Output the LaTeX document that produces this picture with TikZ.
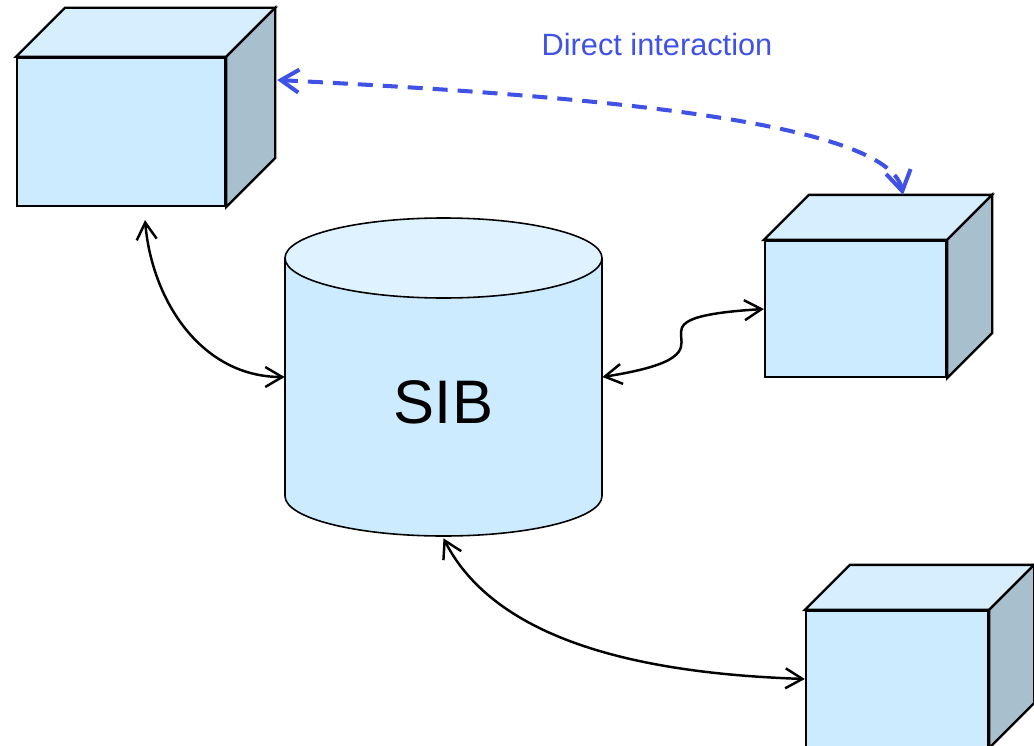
\documentclass[tikz,border=0pt]{standalone}
\usepackage{fontspec}
\setmainfont{Liberation Sans}
\usepackage{xcolor}
\usetikzlibrary{arrows.meta,calc}
\definecolor{frontblue}{HTML}{CCEBFF}
\definecolor{topblue}{HTML}{D7EEFF}
\definecolor{sidegrey}{HTML}{A8BFCE}
\definecolor{captop}{HTML}{DFF2FF}
\definecolor{linkblue}{HTML}{4052E6}
\tikzset{
	front/.style={draw, fill=frontblue, line width=1.3pt, inner sep=0pt},
	topface/.style={draw, fill=topblue, line width=1.3pt},
	sideface/.style={draw, fill=sidegrey, line width=1.3pt},
	link/.style={line width=1.4pt,
			{Straight Barb[length=3.4mm,width=4mm]}-{Straight Barb[length=3.4mm,width=4mm]}},
	direct/.style={linkblue, line width=2.3pt, dash pattern=on 0.3cm off 0.2cm,
			{Straight Barb[length=3.6mm,width=4.6mm]}-{Straight Barb[length=4mm,width=5mm]}}
}

\begin{document}
\begin{tikzpicture}
		\useasboundingbox (0,0) rectangle (20.68,-14.90);

		% Front faces of the three boxes
		\node[front, minimum width=4.16cm, minimum height=2.96cm] (agentA) at (2.42,-2.64) {};
		\node[front, minimum width=3.62cm, minimum height=2.72cm] (agentB) at (17.11,-6.18) {};
		\node[front, minimum width=3.64cm, minimum height=2.72cm] (agentC) at (17.94,-13.58) {};

		% Top and right faces, pushed back by the depth
		\foreach \b/\d in {agentA/0.98, agentB/0.9, agentC/0.9} {
				\draw[topface] (\b.north west) -- ++(\d,\d) -- ($(\b.north east)+(\d,\d)$) -- (\b.north east) -- cycle;
				\draw[sideface] (\b.north east) -- ++(\d,\d) -- ($(\b.south east)+(\d,\d)$) -- (\b.south east) -- cycle;
			}

		% Draw the cylinder (body, then the lid)
		\filldraw[fill=frontblue, line width=0.9pt] (5.70,-5.16) -- (5.70,-9.92)
		arc[start angle=180, end angle=360, x radius=3.17, y radius=0.8] -- (12.04,-5.16);
		\filldraw[fill=captop, line width=0.9pt] (8.87,-5.16) ellipse[x radius=3.17, y radius=0.8];
		\node[minimum width=6.34cm, minimum height=6.36cm, inner sep=0pt] (sib) at (8.87,-7.54) {};
		\node[font=\fontsize{35}{42}\selectfont] (siblabel) at (8.87,-8.04) {SIB};

		% Ports on the boxes
		\coordinate (portA) at ($(agentA.south)+(0.48,-0.26)$);
		\coordinate (backA) at ($(agentA.east)+(1.02,1.04)$);
		\coordinate (topB) at ($(agentB.north)+(0.95,0.9)$);

		% Links to the SIB
		\draw[link] (portA) to[out=-85, in=180] (sib.west);
		\draw[link] (sib.east) .. controls +(3.2,0.5) and +(-3.3,-0.2) .. (agentB.west);
		\draw[link] ([yshift=-0.04cm]sib.south) to[out=-63, in=178, looseness=0.85] (agentC.west);

		% Direct interaction between two boxes
		\draw[direct] (backA) .. controls +(5.98,-0.3) and +(-0.3,1.5) .. (topB);
		\node[linkblue, font=\fontsize{17.5}{21}\selectfont] (directlabel) at (13.14,-0.90) {Direct interaction};
	\end{tikzpicture}
\end{document}
